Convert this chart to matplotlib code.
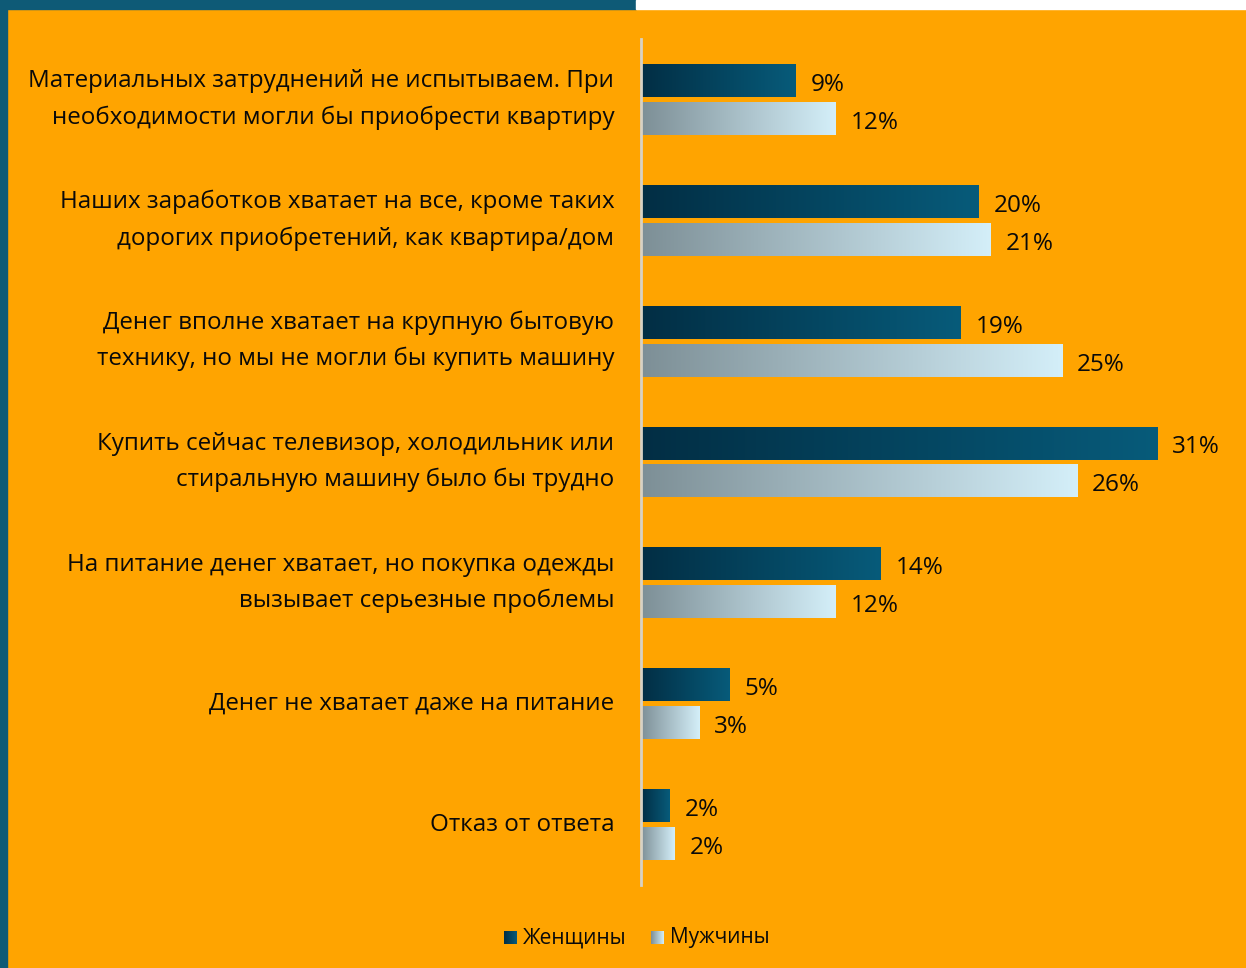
import numpy as np
import matplotlib.pyplot as plt
from matplotlib.colors import LinearSegmentedColormap
from matplotlib.patches import Rectangle

plt.rcParams['font.family'] = ['Open Sans', 'DejaVu Sans']

categories = [
    "Материальных затруднений не испытываем. При\nнеобходимости могли бы приобрести квартиру",
    "Наших заработков хватает на все, кроме таких\nдорогих приобретений, как квартира/дом",
    "Денег вполне хватает на крупную бытовую\nтехнику, но мы не могли бы купить машину",
    "Купить сейчас телевизор, холодильник или\nстиральную машину было бы трудно",
    "На питание денег хватает, но покупка одежды\nвызывает серьезные проблемы",
    "Денег не хватает даже на питание",
    "Отказ от ответа",
]
women = [9.3, 20.3, 19.2, 31.0, 14.4, 5.3, 1.7]
men = [11.7, 21.0, 25.3, 26.2, 11.7, 3.5, 2.0]
women_labels = ["9%", "20%", "19%", "31%", "14%", "5%", "2%"]
men_labels = ["12%", "21%", "25%", "26%", "12%", "3%", "2%"]
series_names = ["Женщины", "Мужчины"]

orange = "#FFA400"
teal = "#0E5A76"
cmap_w = LinearSegmentedColormap.from_list("w", ["#022E44", "#075B7A"])
cmap_m = LinearSegmentedColormap.from_list("m", ["#7D8F96", "#D4EFF9"])
grad = np.linspace(0, 1, 256).reshape(1, -1)

fig = plt.figure(figsize=(12.46, 9.68), dpi=100, facecolor=orange)

# frame strips
fig.patches.append(Rectangle((0, 1 - 9 / 968), 636 / 1246, 9 / 968, transform=fig.transFigure,
                             color=teal, zorder=0))
fig.patches.append(Rectangle((636 / 1246, 1 - 9 / 968), 1 - 636 / 1246, 9 / 968,
                             transform=fig.transFigure, color="white", zorder=0))
fig.patches.append(Rectangle((0, 0), 7 / 1246, 1, transform=fig.transFigure, color=teal, zorder=0))

ax = fig.add_axes([641 / 1246, 1 - 885 / 968, 1 - 641 / 1246, 846 / 968])
ax.set_facecolor("none")

y = np.arange(len(categories))
h = 0.273
off = 0.157

bars_w = ax.barh(y - off, women, height=h, color="none")
bars_m = ax.barh(y + off, men, height=h, color="none")

for bars, cmap in [(bars_w, cmap_w), (bars_m, cmap_m)]:
    for b in bars:
        x0, y0 = b.get_x(), b.get_y()
        im = ax.imshow(grad, cmap=cmap, aspect="auto",
                       extent=[x0, x0 + b.get_width(), y0 + b.get_height(), y0], zorder=2)
        im.set_clip_path(b)

for i in range(len(categories)):
    ax.text(women[i] + 0.9, y[i] - off + 0.012, women_labels[i], va="center_baseline", ha="left",
            fontsize=17.5, color="#0a0a0a")
    ax.text(men[i] + 0.9, y[i] + off + 0.012, men_labels[i], va="center_baseline", ha="left",
            fontsize=17.5, color="#0a0a0a")
    ax.text(-1.6, y[i], categories[i], va="center", ha="right", fontsize=17.4,
            color="#0a0a0a", linespacing=1.65)

ax.set_xlim(0, 605 / 16.65)
ax.set_ylim(len(categories) - 0.5, -0.5)
ax.set_xticks([])
ax.set_yticks([])
for s in ["top", "right", "bottom"]:
    ax.spines[s].set_visible(False)
ax.spines["left"].set_color("#D8D2C4")
ax.spines["left"].set_linewidth(2)

# legend
for x0, cmap, name in [(504, cmap_w, series_names[0]), (651, cmap_m, series_names[1])]:
    lax = fig.add_axes([x0 / 1246, 1 - 944 / 968, 13 / 1246, 13 / 968])
    lax.imshow(grad, cmap=cmap, aspect="auto")
    lax.axis("off")
    fig.text((x0 + 19) / 1246, 1 - 938 / 968, name, va="center", ha="left",
             fontsize=15, color="#0a0a0a")

fig.savefig("out.png", dpi=100, facecolor=orange)
